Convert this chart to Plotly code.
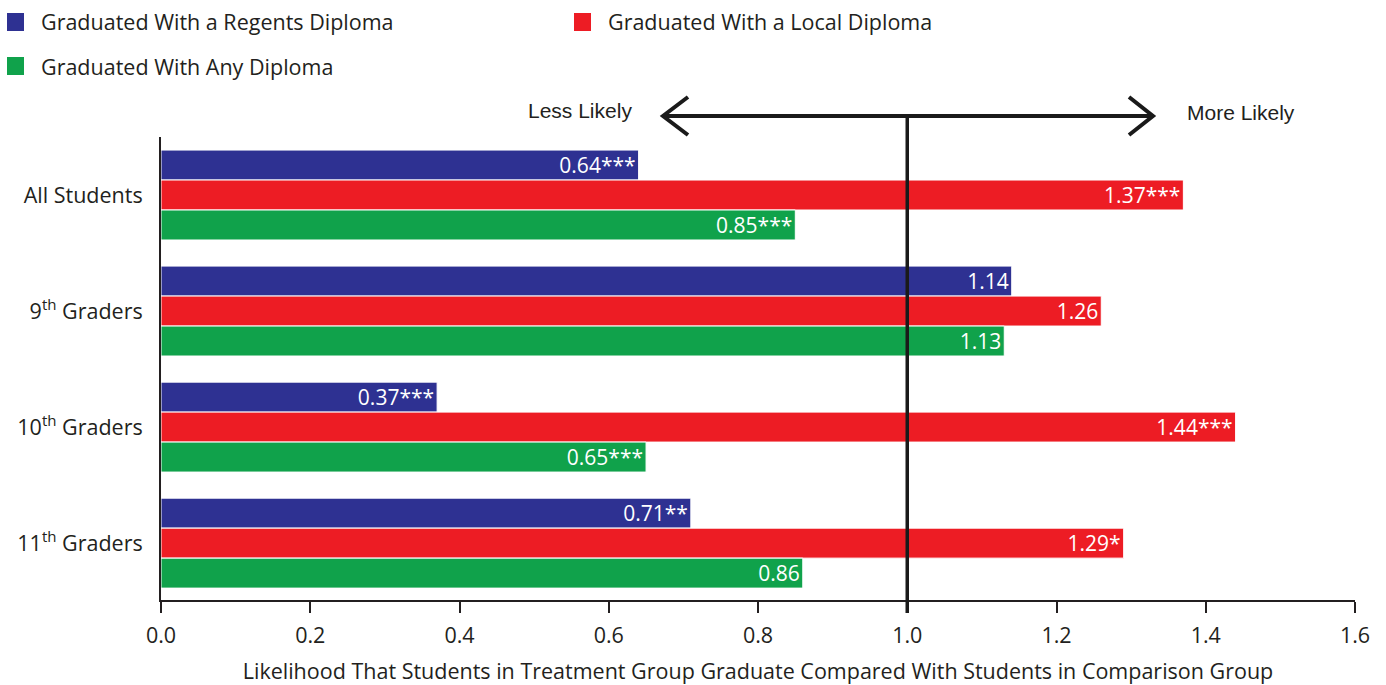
import plotly.graph_objects as go

# Groups (top to bottom) and series
groups = ["All Students", "9<sup>th</sup> Graders", "10<sup>th</sup> Graders", "11<sup>th</sup> Graders"]
series_names = ["Graduated With a Regents Diploma", "Graduated With a Local Diploma", "Graduated With Any Diploma"]
series_colors = ["#2E3192", "#ED1C24", "#10A24B"]

regents = [0.64, 1.14, 0.37, 0.71]
local = [1.37, 1.26, 1.44, 1.29]
any_diploma = [0.85, 1.13, 0.65, 0.86]

regents_sig = ["***", "", "***", "**"]
local_sig = ["***", "", "***", "*"]
any_sig = ["***", "", "***", ""]

x_ticks = [0.0, 0.2, 0.4, 0.6, 0.8, 1.0, 1.2, 1.4, 1.6]
x_title = "Likelihood That Students in Treatment Group Graduate Compared With Students in Comparison Group"
less_label = "Less Likely"
more_label = "More Likely"

W, H = 1386, 685
M_L, M_R, M_T, M_B = 161, 31, 137, 85
TEXT = "#231F20"
FONT = "Open Sans"
NARROW = "Liberation Sans"
FS = 21.5


def px_x(px):
    return (px - M_L) / (W - M_L - M_R)


def px_y(py):
    return (H - M_B - py) / (H - M_T - M_B)


fig = go.Figure()
for name, color, vals, sig in zip(series_names, series_colors,
                                  [regents, local, any_diploma],
                                  [regents_sig, local_sig, any_sig]):
    fig.add_trace(go.Bar(
        x=vals, y=groups, orientation="h", name=name,
        marker=dict(color=color, line=dict(color="white", width=1)),
        text=[f"{v:.2f}{s}" for v, s in zip(vals, sig)],
        textposition="inside", insidetextanchor="end",
        textfont=dict(color="white", size=21, family=FONT),
        showlegend=False,
    ))

# Legend drawn as squares + labels
legend_pos = [(7, 22), (574, 22), (7, 66)]
for (lx, ly), name, color in zip(legend_pos, series_names, series_colors):
    fig.add_shape(type="rect", xref="paper", yref="paper",
                  x0=px_x(lx), x1=px_x(lx + 17), y0=px_y(ly - 9), y1=px_y(ly + 9),
                  fillcolor=color, line=dict(width=0))
    fig.add_annotation(xref="paper", yref="paper", x=px_x(lx + 32), y=px_y(ly),
                       text=name, showarrow=False, xanchor="left", yanchor="middle",
                       font=dict(size=FS, color=TEXT, family=FONT))

# Reference line at 1.0 and double-headed arrow
y_arrow = px_y(116)
fig.add_shape(type="line", xref="x", yref="paper", x0=1.0, x1=1.0,
              y0=px_y(613), y1=y_arrow, line=dict(color="#1a1a1a", width=3.5))
fig.add_shape(type="line", xref="paper", yref="paper", x0=px_x(663), x1=px_x(1153),
              y0=y_arrow, y1=y_arrow, line=dict(color="#1a1a1a", width=4))
for tip, arm in [(663, 688), (1153, 1129)]:
    path = (f"M {px_x(arm)},{px_y(97)} L {px_x(tip)},{y_arrow} L {px_x(arm)},{px_y(135)}")
    fig.add_shape(type="path", xref="paper", yref="paper", path=path,
                  line=dict(color="#1a1a1a", width=4))

fig.add_annotation(xref="paper", yref="paper", x=px_x(634), y=px_y(111), text=less_label,
                   showarrow=False, xanchor="right", yanchor="middle",
                   font=dict(size=21, color=TEXT, family=NARROW))
fig.add_annotation(xref="paper", yref="paper", x=px_x(1185), y=px_y(113), text=more_label,
                   showarrow=False, xanchor="left", yanchor="middle",
                   font=dict(size=21, color=TEXT, family=NARROW))

fig.update_layout(
    width=W, height=H,
    margin=dict(l=M_L, r=M_R, t=M_T, b=M_B),
    paper_bgcolor="white", plot_bgcolor="white",
    barmode="group", bargap=0.225, bargroupgap=0.0,
    font=dict(family=FONT, color=TEXT, size=FS),
    uniformtext=dict(mode="show", minsize=20),
)
fig.update_xaxes(
    automargin=False,
    range=[0, 1.6], tickvals=x_ticks, ticktext=[f"{t:.1f}" for t in x_ticks],
    showgrid=False, zeroline=False, showline=True, linecolor=TEXT, linewidth=2,
    ticks="outside", ticklen=11, tickwidth=2, tickcolor=TEXT,
    ticklabelstandoff=4,
    tickfont=dict(size=FS, color=TEXT, family=FONT),
    title=dict(text=x_title, font=dict(size=FS, color=TEXT, family=FONT), standoff=18),
)
fig.update_yaxes(
    automargin=False,
    range=[3.49, -0.5], showgrid=False, zeroline=False,
    showline=True, linecolor=TEXT, linewidth=2, ticks="",
    ticklabelstandoff=12,
    tickfont=dict(size=FS, color=TEXT, family=FONT),
)

fig.write_html("out.html")
